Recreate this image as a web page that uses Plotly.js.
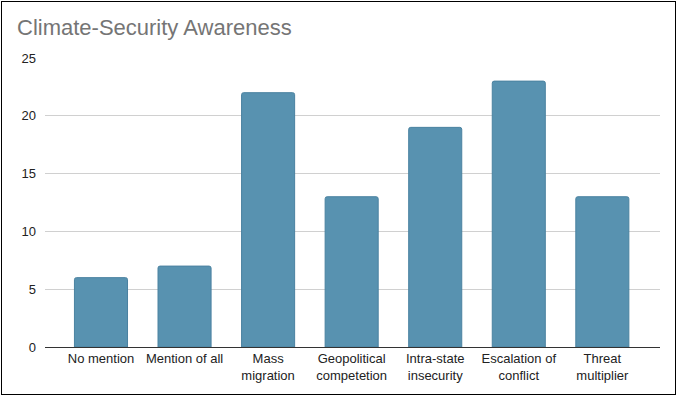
<!DOCTYPE html>
<html><head><meta charset="utf-8">
<script src="https://cdn.plot.ly/plotly-3.0.1.min.js"></script>
<style>body{margin:0;padding:0;background:#fff}#c{width:677px;height:397px;position:absolute;left:0;top:0}#b{position:absolute;left:1px;top:1px;width:673px;height:392px;border:1px solid #000;pointer-events:none}</style>
</head><body><div id="c"></div><div id="b"></div>
<script>
const categories = ["No mention","Mention of all","Mass<br>migration","Geopolitical<br>competetion","Intra-state<br>insecurity","Escalation of<br>conflict","Threat<br>multiplier"];
const values = [6,7,22,13,19,23,13];
const yTicks = [0,5,10,15,20,25];
Plotly.newPlot('c',[{
  type:'bar', x:categories, y:values,
  width:0.635,
  marker:{color:'#5892b0', line:{color:'#4a82a0', width:1}, cornerradius:2},
  hoverinfo:'none'
}],{
  width:677,height:397,
  margin:{l:45,r:17,t:58,b:50},
  paper_bgcolor:'#fff',plot_bgcolor:'#fff',
  font:{family:'Arial, Liberation Sans, sans-serif',size:13,color:'#222'},
  title:{text:'Climate-Security Awareness',x:17/677,xref:'container',xanchor:'left',y:1-27/397,yref:'container',yanchor:'middle',font:{size:22,color:'#757575'},pad:{l:0,t:0,b:0,r:0}},
  xaxis:{type:'category',range:[-0.67,6.69],showgrid:false,ticks:'',showline:false,tickfont:{size:13,color:'#222'},automargin:false,ticklabelstandoff:2},
  yaxis:{range:[0,25],tickvals:yTicks,showgrid:true,gridcolor:'#d0d0d0',gridwidth:1,zeroline:true,zerolinecolor:'#333',zerolinewidth:1,ticks:'',ticklabelstandoff:8,tickfont:{size:13,color:'#222'},automargin:false,showline:false},
  showlegend:false
},{staticPlot:true});
</script></body></html>
